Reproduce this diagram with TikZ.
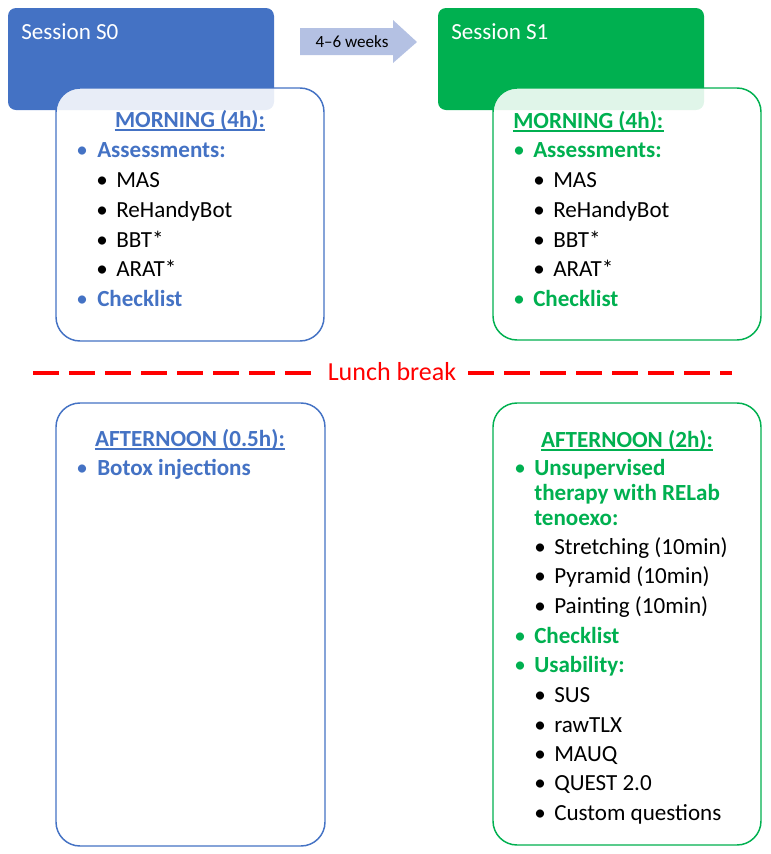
\documentclass[tikz,border=0pt]{standalone}
\usepackage{fontspec}
\setmainfont{Carlito}
\usetikzlibrary{calc}
\definecolor{sblue}{HTML}{4472C4}
\definecolor{sgreen}{HTML}{00B050}
\definecolor{sarrow}{HTML}{B4C1E3}
\definecolor{lunchred}{HTML}{FF0000}

\begin{document}
\begin{tikzpicture}[x=0.75pt,y=-0.75pt,
	lbl/.style={anchor=base west,inner sep=0pt,font=\fontsize{17.3}{20}\selectfont},
	ttl/.style={anchor=base,inner sep=0pt,font=\fontsize{17.3}{20}\selectfont\bfseries},
	bul/.style={anchor=base,inner sep=0pt,font=\fontsize{17.3}{20}\selectfont},
	phase/.style={rounded corners=18pt,line width=1.1pt,fill=white,fill opacity=0.88}]

	% Fix the page to the size of the reference
	\useasboundingbox (0,0) rectangle (771,854);

	% Draw the two session headers
	\fill[sblue,rounded corners=6pt] (8,8) rectangle (274,110);
	\fill[sgreen,rounded corners=6pt] (438,8) rectangle (704,110);
	\node[lbl,white] (s0) at (21,39) {Session S0};
	\node[lbl,white] (s1) at (451,39) {Session S1};

	% Draw the block arrow between the sessions
	\fill[sarrow] (300,28) -- (393,28) -- (393,20) -- (417,42) -- (393,63) -- (393,55) -- (300,55) -- cycle;
	\node[inner sep=0pt,font=\fontsize{12.8}{14}\selectfont] (gap) at (352,42) {4--6 weeks};

	% Draw the morning boxes
	\draw[phase,draw=sblue] (56,88) rectangle (324,341);
	\draw[phase,draw=sgreen] (493,88) rectangle (761,340);

	% Morning of session S0
	\node[ttl,sblue] (m0t) at (190,127) {MORNING (4h):};
	\draw[sblue,line width=1.1pt] ($(m0t.base west)+(0,3)$) -- ($(m0t.base east)+(0,3)$);
	\node[bul,sblue] (m0b1) at (82,157) {•};
	\node[lbl,sblue] (m0i1) at (97,157) {\bfseries Assessments:};
	\node[bul] (m0b2) at (102,187) {•};
	\node[lbl] (m0i2) at (116,187) {MAS};
	\node[bul] (m0b3) at (102,217) {•};
	\node[lbl] (m0i3) at (116,217) {ReHandyBot};
	\node[bul] (m0b4) at (102,247) {•};
	\node[lbl] (m0i4) at (116,247) {BBT*};
	\node[bul] (m0b5) at (102,276) {•};
	\node[lbl] (m0i5) at (116,276) {ARAT*};
	\node[bul,sblue] (m0b6) at (82,306) {•};
	\node[lbl,sblue] (m0i6) at (97,306) {\bfseries Checklist};

	% Morning of session S1
	\node[ttl,sgreen,anchor=base west] (m1t) at (513,128) {MORNING (4h):};
	\draw[sgreen,line width=1.1pt] ($(m1t.base west)+(0,3)$) -- ($(m1t.base east)+(0,3)$);
	\node[bul,sgreen] (m1b1) at (519,157) {•};
	\node[lbl,sgreen] (m1i1) at (533,157) {\bfseries Assessments:};
	\node[bul] (m1b2) at (539,187) {•};
	\node[lbl] (m1i2) at (553,187) {MAS};
	\node[bul] (m1b3) at (539,217) {•};
	\node[lbl] (m1i3) at (553,217) {ReHandyBot};
	\node[bul] (m1b4) at (539,247) {•};
	\node[lbl] (m1i4) at (553,247) {BBT*};
	\node[bul] (m1b5) at (539,276) {•};
	\node[lbl] (m1i5) at (553,276) {ARAT*};
	\node[bul,sgreen] (m1b6) at (519,306) {•};
	\node[lbl,sgreen] (m1i6) at (533,306) {\bfseries Checklist};

	% Draw the lunch break line
	\node[bul,lunchred,font=\fontsize{19.5}{22}\selectfont] (lunch) at (392,380) {Lunch break};
	\draw[lunchred,line width=3pt,dash pattern=on 19.5pt off 7.5pt] (33,373) -- (312,373);
	\draw[lunchred,line width=3pt,dash pattern=on 19.5pt off 7.5pt] (468,373) -- (732,373);

	% Draw the afternoon boxes
	\draw[phase,draw=sblue] (56,403) rectangle (325,846);
	\draw[phase,draw=sgreen] (493,403) rectangle (761,845);

	% Afternoon of session S0
	\node[ttl,sblue] (a0t) at (190,446) {AFTERNOON (0.5h):};
	\draw[sblue,line width=1.1pt] ($(a0t.base west)+(0,3)$) -- ($(a0t.base east)+(0,3)$);
	\node[bul,sblue] (a0b1) at (82,475) {•};
	\node[lbl,sblue] (a0i1) at (97,475) {\bfseries Botox injections};

	% Afternoon of session S1
	\node[ttl,sgreen] (a1t) at (627,447) {AFTERNOON (2h):};
	\draw[sgreen,line width=1.1pt] ($(a1t.base west)+(0,3)$) -- ($(a1t.base east)+(0,3)$);
	\node[bul,sgreen] (a1b1) at (520,475) {•};
	\node[lbl,sgreen] (a1i1) at (534,475) {\bfseries Unsupervised};
	\node[lbl,sgreen] (a1i1b) at (534,500) {\bfseries therapy with RELab};
	\node[lbl,sgreen] (a1i1c) at (534,525) {\bfseries tenoexo:};
	\node[bul] (a1b2) at (540,554) {•};
	\node[lbl] (a1i2) at (554,554) {Stretching (10min)};
	\node[bul] (a1b3) at (540,583) {•};
	\node[lbl] (a1i3) at (554,583) {Pyramid (10min)};
	\node[bul] (a1b4) at (540,613) {•};
	\node[lbl] (a1i4) at (554,613) {Painting (10min)};
	\node[bul,sgreen] (a1b5) at (520,643) {•};
	\node[lbl,sgreen] (a1i5) at (534,643) {\bfseries Checklist};
	\node[bul,sgreen] (a1b6) at (520,672) {•};
	\node[lbl,sgreen] (a1i6) at (534,672) {\bfseries Usability:};
	\node[bul] (a1b7) at (540,702) {•};
	\node[lbl] (a1i7) at (554,702) {SUS};
	\node[bul] (a1b8) at (540,732) {•};
	\node[lbl] (a1i8) at (554,732) {rawTLX};
	\node[bul] (a1b9) at (540,761) {•};
	\node[lbl] (a1i9) at (554,761) {MAUQ};
	\node[bul] (a1b10) at (540,790) {•};
	\node[lbl] (a1i10) at (554,790) {QUEST 2.0};
	\node[bul] (a1b11) at (540,820) {•};
	\node[lbl] (a1i11) at (554,820) {Custom questions};

\end{tikzpicture}
\end{document}
